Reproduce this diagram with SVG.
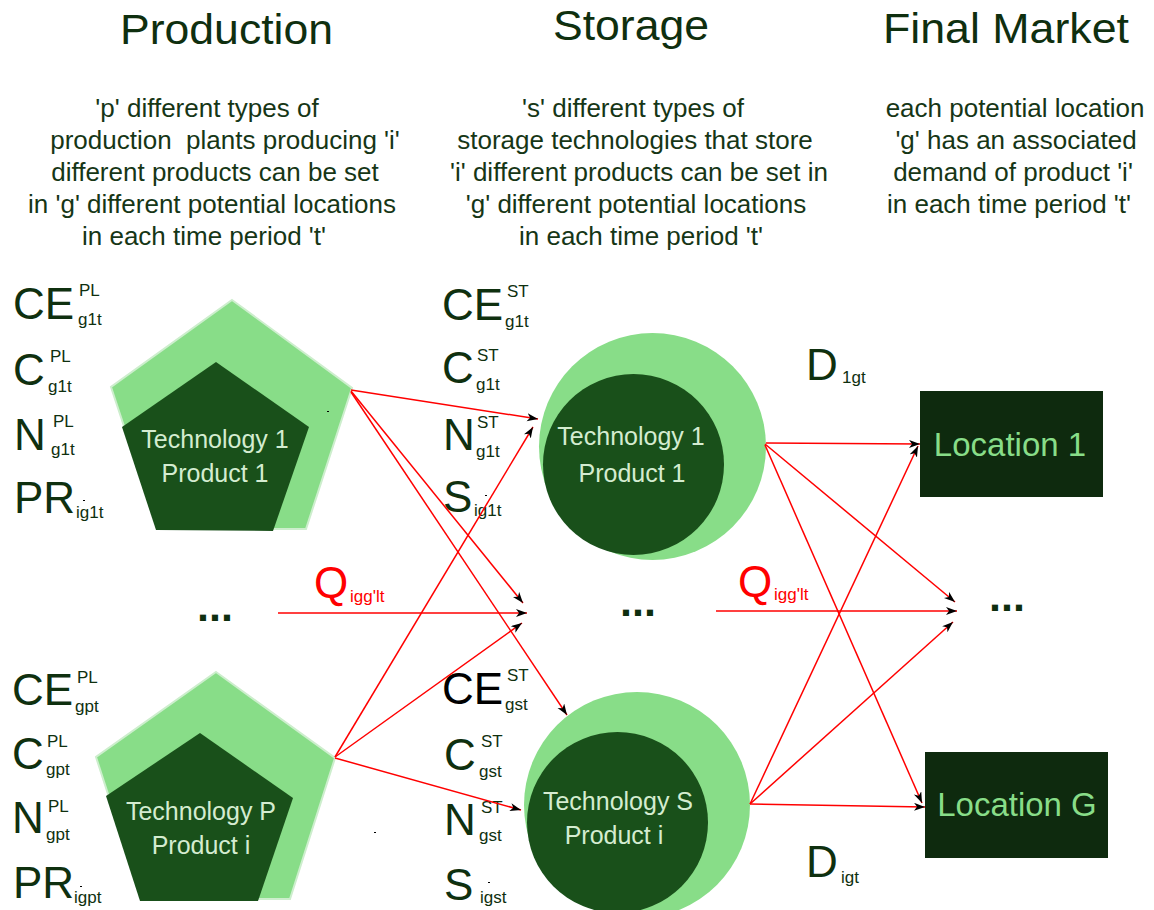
<svg xmlns="http://www.w3.org/2000/svg" width="1154" height="910" viewBox="0 0 1154 910">
<defs>
<style>
text{font-family:"Liberation Sans",Arial,sans-serif;}
.h{font-size:43px;fill:#0f2f0f;}
.d{font-size:26px;fill:#163616;text-anchor:middle;white-space:pre;}
.big{font-size:44px;fill:#0f300f;}
.sm{font-size:17px;fill:#0f300f;}
.nt{font-size:25px;fill:#d4ecd0;text-anchor:middle;}
.lt{font-size:33px;fill:#88dd88;text-anchor:middle;}
.q{fill:#ff0000;}
.dots{font-size:43px;font-weight:bold;fill:#0f2f0f;}
.lg{fill:#88dd88;}
.dg{fill:#19501a;}
.c{stroke:#ff0000;stroke-width:1.5;fill:none;marker-end:url(#ah);}
.sp{fill:#000;}
</style>
<marker id="ah" markerWidth="12" markerHeight="10" refX="11" refY="4" orient="auto" markerUnits="userSpaceOnUse"><path d="M0,0 L11,4 L0,8 L3,4 z" fill="#000"/></marker>
</defs>
<rect width="1154" height="910" fill="#ffffff"/>

<g id="headers">
<text class="h" x="120" y="44" textLength="213" lengthAdjust="spacingAndGlyphs">Production</text>
<text class="h" x="553" y="40" textLength="156" lengthAdjust="spacingAndGlyphs">Storage</text>
<text class="h" x="883" y="43" textLength="246" lengthAdjust="spacingAndGlyphs">Final Market</text>
</g>

<g id="desc-production">
<text class="d" x="207" y="117">'p' different types of</text>
<text class="d" x="225" y="149">production  plants producing 'i'</text>
<text class="d" x="215" y="181">different products can be set</text>
<text class="d" x="212" y="213">in 'g' different potential locations</text>
<text class="d" x="204" y="245">in each time period 't'</text>
</g>
<g id="desc-storage">
<text class="d" x="633" y="117">'s' different types of</text>
<text class="d" x="635" y="149">storage technologies that store</text>
<text class="d" x="639" y="181">'i' different products can be set in</text>
<text class="d" x="636" y="213">'g' different potential locations</text>
<text class="d" x="641" y="245">in each time period 't'</text>
</g>
<g id="desc-market">
<text class="d" x="1015" y="117">each potential location</text>
<text class="d" x="1016" y="149">'g' has an associated</text>
<text class="d" x="1013" y="181">demand of product 'i'</text>
<text class="d" x="1009" y="213">in each time period 't'</text>
</g>

<g id="labels-prod1">
<text class="big" x="13" y="319">CE</text><text class="sm" x="79" y="296">PL</text><text class="sm" x="78" y="325">g1t</text>
<text class="big" x="13" y="385">C</text><text class="sm" x="50" y="362">PL</text><text class="sm" x="48" y="392">g1t</text>
<text class="big" x="14" y="450">N</text><text class="sm" x="53" y="427">PL</text><text class="sm" x="51" y="455">g1t</text>
<text class="big" x="14" y="513">PR</text><text class="sm" x="76" y="518">ig1t</text>
<rect class="sp" x="83" y="500" width="2" height="1"/>
</g>
<g id="labels-prodP">
<text class="big" x="12" y="705">CE</text><text class="sm" x="77" y="683">PL</text><text class="sm" x="75" y="712">gpt</text>
<text class="big" x="12" y="769">C</text><text class="sm" x="47" y="747">PL</text><text class="sm" x="46" y="775">gpt</text>
<text class="big" x="12" y="833">N</text><text class="sm" x="48" y="812">PL</text><text class="sm" x="46" y="840">gpt</text>
<text class="big" x="13" y="898">PR</text><text class="sm" x="74" y="903">igpt</text>
<rect class="sp" x="80" y="886" width="2" height="1"/>
</g>
<g id="labels-stor1">
<text class="big" x="442" y="320">CE</text><text class="sm" x="507" y="297">ST</text><text class="sm" x="505" y="327">g1t</text>
<text class="big" x="442" y="383">C</text><text class="sm" x="477" y="361">ST</text><text class="sm" x="476" y="390">g1t</text>
<text class="big" x="443" y="450">N</text><text class="sm" x="477" y="428">ST</text><text class="sm" x="476" y="457">g1t</text>
<text class="big" x="443" y="512">S</text><text class="sm" x="474" y="516">ig1t</text>
<rect class="sp" x="485" y="495" width="2" height="1"/>
</g>
<g id="labels-storS">
<text class="big" x="442" y="704" style="fill:#000">CE</text><text class="sm" x="507" y="681">ST</text><text class="sm" x="505" y="710">gst</text>
<text class="big" x="444" y="770">C</text><text class="sm" x="481" y="747">ST</text><text class="sm" x="479" y="777">gst</text>
<text class="big" x="444" y="835">N</text><text class="sm" x="481" y="813">ST</text><text class="sm" x="479" y="841">gst</text>
<text class="big" x="444" y="900">S</text><text class="sm" x="480" y="903">igst</text>
<rect class="sp" x="488" y="882" width="2" height="1"/>
<rect class="sp" x="374" y="832" width="2" height="1"/>
</g>
<g id="labels-demand">
<text class="big" x="806" y="380">D</text><text class="sm" x="842" y="383">1gt</text>
<text class="big" x="806" y="877">D</text><text class="sm" x="841" y="883">igt</text>
</g>

<g id="prod1">
<polygon class="lg" points="232,300 352,388 306,529 158,529 111,387" stroke="#cdeecd" stroke-width="2"/>
<polygon class="dg" points="216,362 309,427 273,531 156,530 122,427"/>
<rect class="sp" x="327" y="411" width="2" height="1"/>
<text class="nt" x="215" y="448">Technology 1</text>
<text class="nt" x="215" y="482">Product 1</text>
</g>
<g id="prodP">
<polygon class="lg" points="216,672 335,758 290,899 142,899 96,757" stroke="#cdeecd" stroke-width="2"/>
<polygon class="dg" points="200,733 293,798 258,901 140,901 106,796"/>
<text class="nt" x="201" y="820">Technology P</text>
<text class="nt" x="201" y="854">Product i</text>
</g>
<g id="stor1">
<circle class="lg" cx="652.5" cy="446.5" r="113.5"/>
<circle class="dg" cx="633.5" cy="464.5" r="90.5"/>
<text class="nt" x="631" y="445">Technology 1</text>
<text class="nt" x="632" y="482">Product 1</text>
</g>
<g id="storS">
<circle class="lg" cx="637" cy="805" r="113"/>
<circle class="dg" cx="617.5" cy="822.5" r="90.5"/>
<text class="nt" x="618" y="810">Technology S</text>
<text class="nt" x="614" y="844">Product i</text>
</g>
<g id="loc1">
<rect x="920" y="391" width="183" height="106" fill="#0e2a0e"/>
<text class="lt" x="1010" y="456">Location 1</text>
</g>
<g id="locG">
<rect x="925" y="752" width="183" height="106" fill="#0e2a0e"/>
<text class="lt" x="1017" y="816">Location G</text>
</g>

<g id="ellipses">
<text class="dots" x="197" y="621">...</text>
<text class="dots" x="620" y="616">...</text>
<text class="dots" x="989" y="611">...</text>
</g>

<g id="flow-labels">
<text class="big q" x="314" y="598">Q</text><text class="sm q" x="350" y="602">igg'lt</text>
<text class="big q" x="738" y="597">Q</text><text class="sm q" x="774" y="600">igg'lt</text>
</g>

<g id="connectors">
<line class="c" x1="351" y1="390" x2="538" y2="419"/>
<line class="c" x1="351" y1="391" x2="523" y2="603"/>
<line class="c" x1="351" y1="392" x2="567" y2="715"/>
<line class="c" x1="278" y1="613" x2="527" y2="613"/>
<line class="c" x1="335" y1="757" x2="533" y2="427"/>
<line class="c" x1="335" y1="757" x2="522" y2="623"/>
<line class="c" x1="335" y1="758" x2="521" y2="810"/>
<line class="c" x1="766" y1="443" x2="920" y2="444"/>
<line class="c" x1="765" y1="444" x2="955" y2="602"/>
<line class="c" x1="765" y1="445" x2="922" y2="803"/>
<line class="c" x1="716" y1="611" x2="957" y2="611"/>
<line class="c" x1="750" y1="804" x2="918" y2="446"/>
<line class="c" x1="750" y1="804" x2="953" y2="622"/>
<line class="c" x1="750" y1="804" x2="925" y2="807"/>
</g>
</svg>
